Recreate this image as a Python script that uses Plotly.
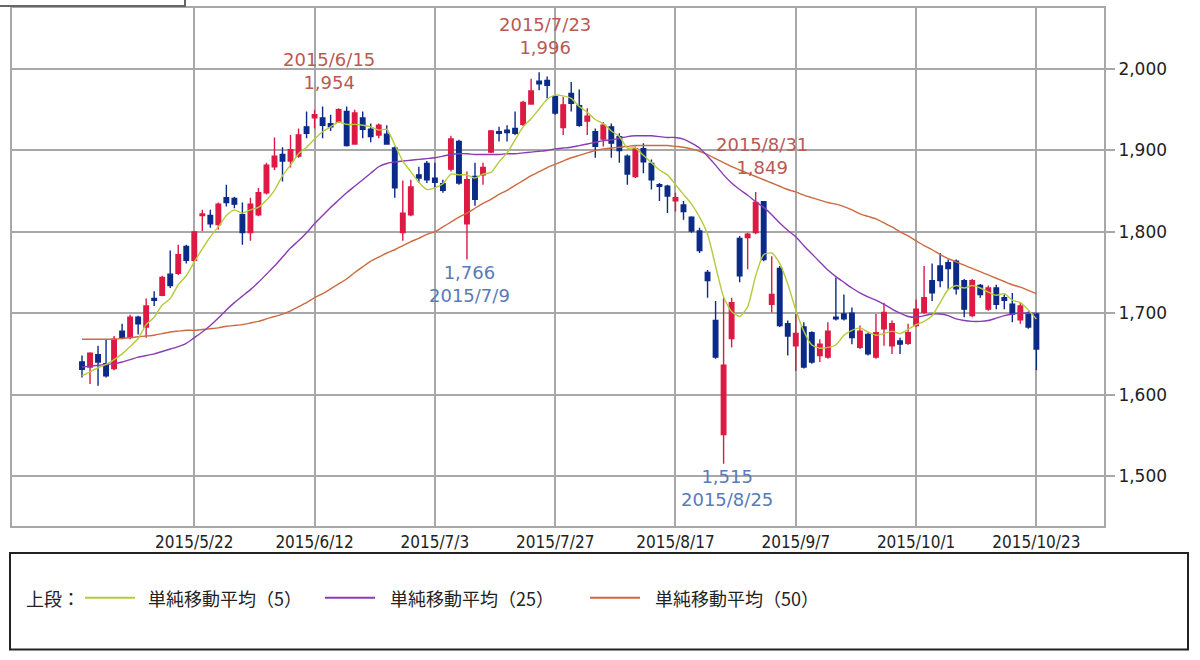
import pandas as pd
import plotly.graph_objects as go

# ---------------- data ----------------
holidays = ["2015-04-29", "2015-05-04", "2015-05-05", "2015-05-06", "2015-07-20",
            "2015-09-21", "2015-09-22", "2015-09-23", "2015-10-12"]
_days = [d for d in pd.bdate_range("2015-04-28", "2015-10-23") if d.strftime("%Y-%m-%d") not in holidays]
dates = [f"{d.year}/{d.month}/{d.day}" for d in _days]

open_ = [1640, 1634, 1649, 1638, 1632, 1678, 1670, 1695, 1683, 1718,
         1722, 1748, 1749, 1782, 1765, 1820, 1820, 1809, 1842, 1841,
         1821, 1799, 1821, 1848, 1880, 1895, 1887, 1893, 1929, 1940,
         1940, 1933, 1935, 1948, 1908, 1940, 1926, 1919, 1920, 1903,
         1799, 1821, 1870, 1884, 1866, 1859, 1877, 1911, 1810, 1868,
         1870, 1898, 1923, 1925, 1927, 1932, 1957, 1985, 1986, 1966,
         1928, 1970, 1955, 1936, 1923, 1914, 1929, 1917, 1893, 1868,
         1902, 1884, 1858, 1856, 1838, 1833, 1818, 1801, 1750, 1691,
         1551, 1669, 1792, 1793, 1799, 1837, 1711, 1755, 1687, 1660,
         1683, 1676, 1648, 1646, 1695, 1699, 1700, 1658, 1674, 1646,
         1681, 1660, 1666, 1663, 1685, 1701, 1740, 1758, 1762, 1764,
         1740, 1697, 1734, 1705, 1731, 1719, 1711, 1692, 1700, 1699]
high = [1648, 1652, 1660, 1668, 1672, 1687, 1698, 1697, 1718, 1727,
        1746, 1777, 1784, 1784, 1801, 1827, 1827, 1836, 1858, 1843,
        1836, 1842, 1854, 1885, 1916, 1904, 1919, 1927, 1948, 1950,
        1954, 1944, 1952, 1954, 1950, 1948, 1933, 1933, 1931, 1905,
        1863, 1864, 1880, 1887, 1885, 1864, 1918, 1913, 1874, 1885,
        1885, 1925, 1929, 1931, 1948, 1961, 1988, 1996, 1991, 1968,
        1966, 1984, 1975, 1952, 1927, 1935, 1933, 1921, 1895, 1905,
        1909, 1889, 1860, 1858, 1848, 1838, 1819, 1805, 1753, 1715,
        1719, 1719, 1795, 1799, 1849, 1838, 1770, 1758, 1691, 1699,
        1689, 1678, 1668, 1689, 1744, 1723, 1707, 1685, 1676, 1699,
        1713, 1691, 1670, 1687, 1717, 1758, 1761, 1774, 1766, 1766,
        1742, 1742, 1736, 1734, 1735, 1723, 1725, 1713, 1702, 1701]
low = [1621, 1613, 1611, 1621, 1630, 1668, 1668, 1674, 1670, 1709,
       1721, 1731, 1747, 1761, 1764, 1801, 1805, 1803, 1831, 1829,
       1784, 1789, 1819, 1846, 1876, 1862, 1879, 1891, 1915, 1927,
       1915, 1924, 1934, 1905, 1907, 1915, 1910, 1915, 1907, 1842,
       1789, 1819, 1860, 1860, 1854, 1848, 1874, 1858, 1766, 1832,
       1858, 1897, 1911, 1911, 1919, 1930, 1956, 1974, 1964, 1944,
       1919, 1948, 1929, 1919, 1891, 1905, 1891, 1885, 1858, 1866,
       1872, 1852, 1838, 1823, 1825, 1815, 1799, 1774, 1719, 1644,
       1515, 1658, 1738, 1754, 1797, 1764, 1701, 1683, 1648, 1629,
       1632, 1638, 1640, 1644, 1691, 1691, 1662, 1656, 1648, 1644,
       1660, 1650, 1650, 1661, 1683, 1699, 1715, 1732, 1730, 1723,
       1695, 1695, 1719, 1703, 1705, 1705, 1689, 1687, 1681, 1630]
close = [1631, 1651, 1640, 1623, 1668, 1670, 1695, 1687, 1709, 1716,
         1744, 1734, 1772, 1765, 1800, 1822, 1810, 1834, 1836, 1834,
         1799, 1834, 1848, 1882, 1893, 1887, 1901, 1919, 1921, 1944,
         1931, 1929, 1950, 1906, 1946, 1926, 1917, 1931, 1908, 1854,
         1823, 1855, 1866, 1864, 1861, 1851, 1914, 1860, 1864, 1840,
         1879, 1924, 1921, 1922, 1921, 1959, 1973, 1982, 1980, 1946,
         1956, 1958, 1931, 1942, 1905, 1931, 1909, 1900, 1871, 1902,
         1886, 1864, 1856, 1844, 1842, 1825, 1801, 1777, 1740, 1646,
         1636, 1713, 1746, 1797, 1836, 1766, 1723, 1685, 1672, 1675,
         1634, 1640, 1662, 1678, 1693, 1693, 1670, 1678, 1650, 1676,
         1701, 1687, 1662, 1676, 1705, 1719, 1725, 1740, 1755, 1730,
         1705, 1740, 1723, 1731, 1711, 1716, 1699, 1709, 1683, 1656]

ma5 = [1623, 1628, 1633, 1637, 1643, 1650, 1659, 1669, 1686, 1695,
       1710, 1718, 1735, 1746, 1763, 1779, 1794, 1806, 1820, 1827,
       1823, 1827, 1830, 1839, 1851, 1869, 1882, 1896, 1904, 1914,
       1923, 1929, 1935, 1932, 1932, 1931, 1929, 1925, 1926, 1907,
       1887, 1874, 1861, 1852, 1854, 1859, 1871, 1870, 1870, 1866,
       1871, 1873, 1886, 1897, 1913, 1929, 1939, 1951, 1963, 1968,
       1967, 1964, 1954, 1947, 1938, 1933, 1924, 1917, 1903, 1903,
       1894, 1885, 1876, 1870, 1858, 1846, 1834, 1818, 1797, 1758,
       1720, 1702, 1696, 1708, 1746, 1772, 1774, 1761, 1736, 1704,
       1678, 1661, 1657, 1658, 1661, 1673, 1679, 1682, 1677, 1673,
       1675, 1678, 1675, 1680, 1686, 1690, 1697, 1713, 1729, 1734,
       1731, 1734, 1731, 1726, 1722, 1724, 1716, 1713, 1704, 1693]
ma25 = [1634, 1635, 1636, 1637, 1638, 1640, 1643, 1646, 1648, 1650,
        1653, 1656, 1659, 1663, 1670, 1677, 1685, 1694, 1704, 1713,
        1721, 1729, 1738, 1748, 1758, 1769, 1780, 1789, 1799, 1810,
        1820, 1830, 1839, 1848, 1856, 1864, 1872, 1880, 1884, 1886,
        1887, 1888, 1889, 1890, 1891, 1893, 1895, 1896, 1896, 1895,
        1895, 1895, 1895, 1896, 1896, 1897, 1898, 1899, 1900, 1902,
        1903, 1904, 1906, 1908, 1910, 1912, 1913, 1915, 1917, 1918,
        1918, 1918, 1917, 1916, 1916, 1914, 1909, 1903, 1893, 1882,
        1870, 1860, 1852, 1845, 1837, 1830, 1821, 1811, 1802, 1794,
        1783, 1773, 1763, 1753, 1745, 1738, 1731, 1725, 1720, 1716,
        1711, 1705, 1700, 1696, 1695, 1697, 1699, 1699, 1697, 1693,
        1691, 1690, 1690, 1691, 1694, 1697, 1699, 1700, 1700, 1700]
ma50 = [1668, 1668, 1668, 1668, 1668, 1669, 1670, 1671, 1672, 1673,
        1675, 1677, 1678, 1679, 1679, 1680, 1681, 1682, 1684, 1685,
        1686, 1688, 1690, 1693, 1696, 1699, 1703, 1708, 1713, 1719,
        1724, 1730, 1736, 1742, 1750, 1757, 1764, 1769, 1774, 1778,
        1783, 1788, 1792, 1797, 1800, 1806, 1812, 1818, 1823, 1829,
        1835, 1840, 1846, 1851, 1857, 1863, 1869, 1874, 1879, 1883,
        1887, 1891, 1894, 1897, 1900, 1902, 1903, 1904, 1905, 1906,
        1906, 1906, 1906, 1906, 1905, 1904, 1902, 1899, 1895, 1890,
        1885, 1880, 1876, 1872, 1868, 1864, 1860, 1856, 1852, 1849,
        1845, 1842, 1839, 1836, 1834, 1831, 1827, 1822, 1819, 1816,
        1811, 1806, 1800, 1795, 1789, 1783, 1778, 1772, 1767, 1763,
        1759, 1755, 1751, 1747, 1743, 1739, 1735, 1732, 1728, 1724]

tick_labels = ["2015/5/22", "2015/6/12", "2015/7/3", "2015/7/27",
               "2015/8/17", "2015/9/7", "2015/10/1", "2015/10/23"]
y_ticks = [1500, 1600, 1700, 1800, 1900, 2000]

high_marks = [("2015/6/15", 1954), ("2015/7/23", 1996), ("2015/8/31", 1849)]
low_marks = [("2015/7/9", 1766), ("2015/8/25", 1515)]

legend_names = ["単純移動平均（5）", "単純移動平均（25）", "単純移動平均（50）"]

# ---------------- styles ----------------
RED = "#dc1a44"
NAVY = "#0c2a88"
C_MA5 = "#b4cc3c"
C_MA25 = "#8a3cb4"
C_MA50 = "#cc6a40"
GRID = "#a8a8a8"
HI_COL = "#b85a55"
LO_COL = "#5a7ab8"

W, H = 1200, 660
L, R, T, B = 12, 1104, 6, 526


def px(xp):
    return (xp - L) / (R - L)


def py(yp):
    return (B - yp) / (B - T)


fig = go.Figure()
fig.add_trace(go.Candlestick(
    x=dates, open=open_, high=high, low=low, close=close,
    increasing=dict(line=dict(color=RED, width=1.4), fillcolor=RED),
    decreasing=dict(line=dict(color=NAVY, width=1.4), fillcolor=NAVY),
    whiskerwidth=0, showlegend=False, hoverinfo="skip"))

for vals, col in [(ma50, C_MA50), (ma25, C_MA25), (ma5, C_MA5)]:
    fig.add_trace(go.Scatter(x=dates, y=vals, mode="lines",
                             line=dict(color=col, width=1.4, shape="spline", smoothing=0.6),
                             showlegend=False, hoverinfo="skip"))

ann_font = dict(family="DejaVu Sans", size=18)
for d, v in high_marks:
    fig.add_annotation(x=d, y=v, xref="x", yref="y", showarrow=False,
                       text=f"{d}<br>{v:,}", yanchor="bottom", yshift=12, xshift=6,
                       font=dict(color=HI_COL, **ann_font))
for d, v in low_marks:
    fig.add_annotation(x=d, y=v, xref="x", yref="y", showarrow=False,
                       text=f"{v:,}<br>{d}", yanchor="top", yshift=0, xshift=3,
                       font=dict(color=LO_COL, **ann_font))

# legend box (drawn manually)
fig.add_shape(type="rect", xref="paper", yref="paper",
              x0=px(10), x1=px(1188), y0=py(650), y1=py(553),
              line=dict(color="#222222", width=2), fillcolor="white", layer="below")
# cut-off box at the top-left
fig.add_shape(type="rect", xref="paper", yref="paper",
              x0=px(-2), x1=px(185), y0=py(4), y1=py(-10),
              line=dict(color="#666666", width=2))

leg_font = dict(family="Noto Sans CJK JP", size=18, color="#222222")
ly = py(598)
fig.add_annotation(x=px(24), y=ly, xref="paper", yref="paper", text="上段：",
                   showarrow=False, xanchor="left", yanchor="middle", font=leg_font)
for (x0, x1, tx), name, col in zip([(85, 135, 146), (325, 375, 388), (590, 640, 653)],
                                   legend_names, [C_MA5, C_MA25, C_MA50]):
    fig.add_shape(type="line", xref="paper", yref="paper", x0=px(x0), x1=px(x1),
                  y0=ly, y1=ly, line=dict(color=col, width=2))
    fig.add_annotation(x=px(tx), y=ly, xref="paper", yref="paper", text=name,
                       showarrow=False, xanchor="left", yanchor="middle", font=leg_font)

x_lo = (L - 82) / 8.02
x_hi = (R - 82) / 8.02
y_lo = 2000 - (B - 67.3) / 0.817
y_hi = 2000 + (67.3 - T) / 0.817

fig.update_layout(
    width=W, height=H,
    margin=dict(l=L, r=W - R, t=T, b=H - B),
    paper_bgcolor="white", plot_bgcolor="white",
    showlegend=False, boxgap=0.2,
    xaxis=dict(type="category", range=[x_lo, x_hi], rangeslider=dict(visible=False),
               tickmode="array", tickvals=tick_labels, ticktext=tick_labels,
               showgrid=True, gridcolor=GRID, gridwidth=2,
               showline=True, linecolor=GRID, linewidth=2, mirror=True,
               ticks="", tickfont=dict(family="DejaVu Sans Condensed, DejaVu Sans", size=17, color="#222222"),
               zeroline=False, fixedrange=True),
    yaxis=dict(side="right", range=[y_lo, y_hi], tickmode="array", tickvals=y_ticks,
               tickformat=",d", showgrid=True, gridcolor=GRID, gridwidth=2,
               showline=True, linecolor=GRID, linewidth=2, mirror=True,
               ticks="outside", ticklen=9, tickcolor=GRID, tickwidth=2,
               tickfont=dict(family="DejaVu Sans", size=17, color="#222222"),
               zeroline=False, fixedrange=True),
)

fig.write_html("out.html")
